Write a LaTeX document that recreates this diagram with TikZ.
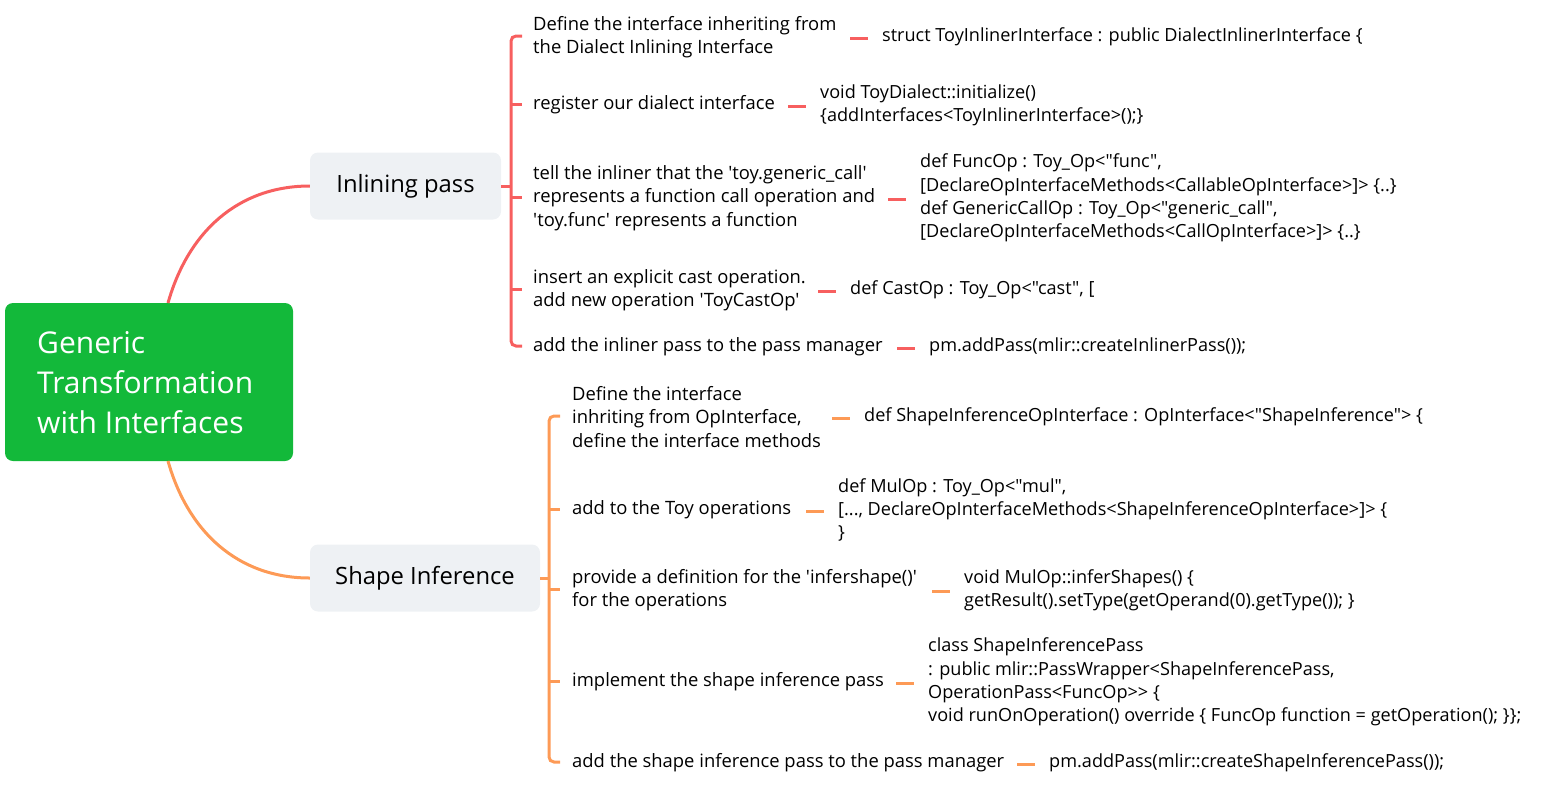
\documentclass[tikz,border=0pt]{standalone}
\usepackage{fontspec}
\setmainfont{Open Sans}[Ligatures=TeXOff]
\definecolor{rootgreen}{HTML}{13B93A}
\definecolor{boxgray}{HTML}{EEF1F4}
\definecolor{redline}{HTML}{F75F5F}
\definecolor{orangeline}{HTML}{FD9A56}
\begin{document}
\begin{tikzpicture}[x=1pt,y=-1pt,
  rootbox/.style={fill=rootgreen,rounded corners=8pt,minimum width=288pt,minimum height=158pt,inner sep=0pt},
  topicbox/.style={fill=boxgray,rounded corners=8pt,minimum height=67pt,inner sep=0pt,font=\fontsize{23.8}{28}\selectfont},
  lbl/.style={anchor=west,align=left,inner sep=0pt,font=\fontsize{18.4}{23.3}\selectfont},
  code/.style={anchor=west,align=left,inner sep=0pt,font=\fontsize{18.1}{23.3}\selectfont},
  redw/.style={draw=redline,line width=3pt},
  orw/.style={draw=orangeline,line width=3pt},
  brk/.style={line width=3pt,rounded corners=5pt},
]
\useasboundingbox (0,0) rectangle (1546,785);
% root
\node[rootbox] (root) at (149,382) {};
\node[anchor=west,align=left,inner sep=0pt,text=white,font=\fontsize{30}{40}\selectfont] (roottext) at (37,383) {Generic\\Transformation\\with Interfaces};
% topics
\node[topicbox,minimum width=191pt] (inl) at (405.5,186) {Inlining pass};
\node[topicbox,minimum width=230pt] (shp) at (425,578) {Shape Inference};
\coordinate (rtop) at (168,303);
\coordinate (rbot) at (168,461);
\draw[redw] (rtop) .. controls (188,232) and (238,186) .. (inl.west);
\draw[orw] (rbot) .. controls (188,532) and (238,578) .. (shp.west);

% Inlining children
\node[lbl] (a1) at (533,37) {Define the interface inheriting from\\the Dialect Inlining Interface};
\node[lbl] (a2) at (533,105) {register our dialect interface};
\node[lbl] (a3) at (533,198) {tell the inliner that the 'toy.generic\_call'\\represents a function call operation and\\'toy.func' represents a function};
\node[lbl] (a4) at (533,290) {insert an explicit cast operation.\\add new operation 'ToyCastOp'};
\node[lbl] (a5) at (533,347) {add the inliner pass to the pass manager};

\node[code] (c1) at (882,37) {struct ToyInlinerInterface : public DialectInlinerInterface \{};
\node[code] (c2) at (820,105) {void ToyDialect::initialize()\\\{addInterfaces<ToyInlinerInterface>();\}};
\node[code] (c3) at (920,198) {def FuncOp : Toy\_Op<"func",\\{}[DeclareOpInterfaceMethods<CallableOpInterface>]> \{..\}\\def GenericCallOp : Toy\_Op<"generic\_call",\\{}[DeclareOpInterfaceMethods<CallOpInterface>]> \{..\}};
\node[code] (c4) at (850,290) {def CastOp : Toy\_Op<"cast", [};
\node[code] (c5) at (929,347) {pm.addPass(mlir::createInlinerPass());};

\coordinate (ib) at (511,186);
\coordinate (ib1) at (522,36);
\coordinate (ib5) at (522,346);
\draw[redw] (inl.east) -- (ib);
\draw[redw,brk] (ib1) -- (511,36) -- (511,346) -- (ib5);
\foreach \y/\n in {104/2,197/3,289/4}{
  \coordinate (ib\n) at (522,\y);
  \draw[redw] (511,\y) -- (ib\n);
}
\foreach \n in {1,...,5}{
  \draw[redw] ([xshift=-32pt,yshift=-1pt]c\n.west) -- ([xshift=-14pt,yshift=-1pt]c\n.west);
}

% Shape children
\node[lbl] (b1) at (572,417) {Define the interface\\inhriting from OpInterface,\\define the interface methods};
\node[lbl] (b2) at (572,510) {add to the Toy operations};
\node[lbl] (b3) at (572,590) {provide a definition for the 'infershape()'\\for the operations};
\node[lbl] (b4) at (572,682) {implement the shape inference pass};
\node[lbl] (b5) at (572,763) {add the shape inference pass to the pass manager};

\node[code] (d1) at (864,417) {def ShapeInferenceOpInterface : OpInterface<"ShapeInference"> \{};
\node[code] (d2) at (838,510) {def MulOp : Toy\_Op<"mul",\\{}[..., DeclareOpInterfaceMethods<ShapeInferenceOpInterface>]> \{\\\}};
\node[code] (d3) at (964,590) {void MulOp::inferShapes() \{\\getResult().setType(getOperand(0).getType()); \}};
\node[code] (d4) at (928,682) {class ShapeInferencePass\\: public mlir::PassWrapper<ShapeInferencePass,\\OperationPass<FuncOp>{}> \{\\void runOnOperation() override \{ FuncOp function = getOperation(); \}\};};
\node[code] (d5) at (1049,763) {pm.addPass(mlir::createShapeInferencePass());};

\coordinate (sb) at (549,578);
\coordinate (sb1) at (560,416);
\coordinate (sb5) at (560,762);
\draw[orw] (shp.east) -- (sb);
\draw[orw,brk] (sb1) -- (549,416) -- (549,762) -- (sb5);
\foreach \y/\n in {509/2,589/3,681/4}{
  \coordinate (sb\n) at (560,\y);
  \draw[orw] (549,\y) -- (sb\n);
}
\foreach \n in {1,...,5}{
  \draw[orw] ([xshift=-32pt,yshift=-1pt]d\n.west) -- ([xshift=-14pt,yshift=-1pt]d\n.west);
}
\end{tikzpicture}
\end{document}
